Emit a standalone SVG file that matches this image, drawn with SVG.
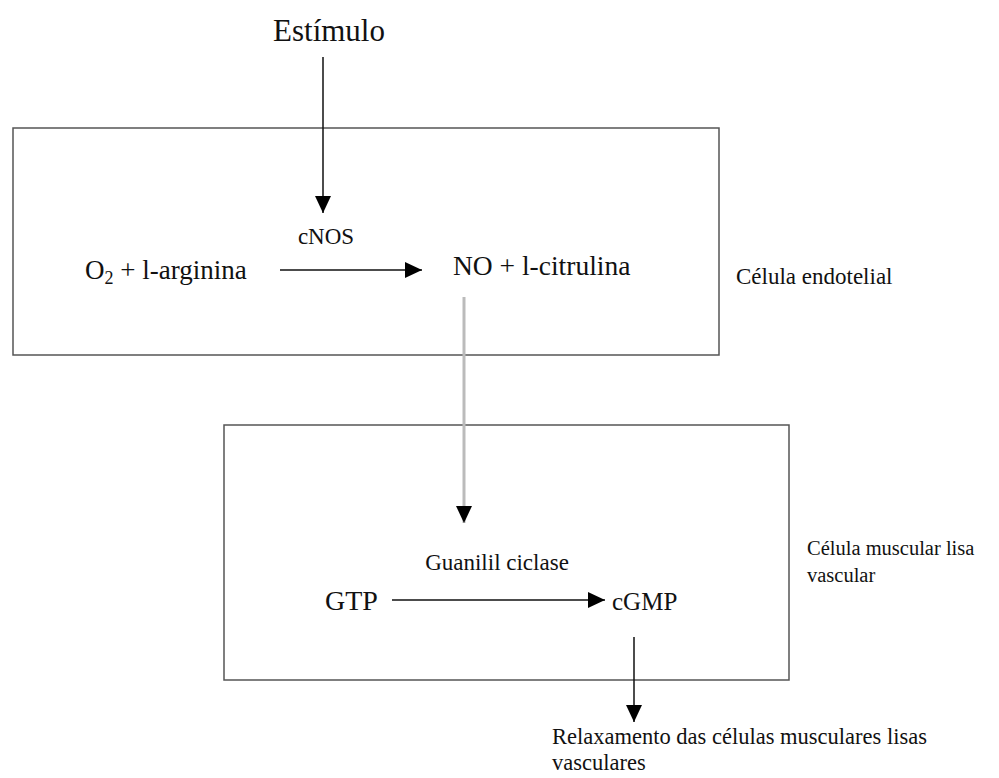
<svg xmlns="http://www.w3.org/2000/svg" width="999" height="778" viewBox="0 0 999 778">
<style>
text{font-family:"Liberation Serif","Times New Roman",serif;fill:#111}
.box{fill:none;stroke:#555;stroke-width:1.5}
.ln{stroke:#111;stroke-width:1.5;fill:none}
.gray{stroke:#bbb;stroke-width:3;fill:none}
</style>
<defs>
<marker id="ah" markerUnits="userSpaceOnUse" markerWidth="18" markerHeight="18" refX="17" refY="8" orient="auto">
<path d="M0,0 L17,8 L0,16 Z" fill="#000"/>
</marker>
</defs>
<g id="endotelial">
<rect class="box" x="13" y="128" width="706" height="227"/>
<text x="736" y="284" font-size="23">Célula endotelial</text>
</g>
<g id="muscular">
<rect class="box" x="224" y="425" width="565" height="255"/>
<text x="807" y="555" font-size="20.5">Célula muscular lisa</text>
<text x="807" y="582" font-size="20.5">vascular</text>
</g>
<g id="estimulo"><text x="329" y="41" font-size="31" text-anchor="middle">Estímulo</text></g>
<g id="o2"><text x="85" y="279" font-size="27">O<tspan font-size="18" dy="5">2</tspan><tspan dy="-5"> + l-arginina</tspan></text></g>
<g id="cnos"><text x="326" y="244" font-size="23" text-anchor="middle">cNOS</text></g>
<g id="no"><text x="453" y="275" font-size="27.5">NO + l-citrulina</text></g>
<g id="guanilil"><text x="497" y="570" font-size="23" text-anchor="middle">Guanilil ciclase</text></g>
<g id="gtp"><text x="325" y="610" font-size="28">GTP</text></g>
<g id="cgmp"><text x="612" y="610" font-size="25">cGMP</text></g>
<g id="relax">
<text x="552" y="744" font-size="22.5">Relaxamento das células musculares lisas</text>
<text x="552" y="770" font-size="22.5">vasculares</text>
</g>
<g id="connectors">
<line class="ln" x1="323" y1="57" x2="323" y2="213" marker-end="url(#ah)"/>
<line class="ln" x1="280" y1="270" x2="422" y2="270" marker-end="url(#ah)"/>
<line class="gray" x1="464" y1="297" x2="464" y2="523"/>
<path d="M456,506 L472,506 L464,523 Z" fill="#000"/>
<line class="ln" x1="392" y1="600" x2="605" y2="600" marker-end="url(#ah)"/>
<line class="ln" x1="634" y1="637" x2="634" y2="722" marker-end="url(#ah)"/>
</g>
</svg>
